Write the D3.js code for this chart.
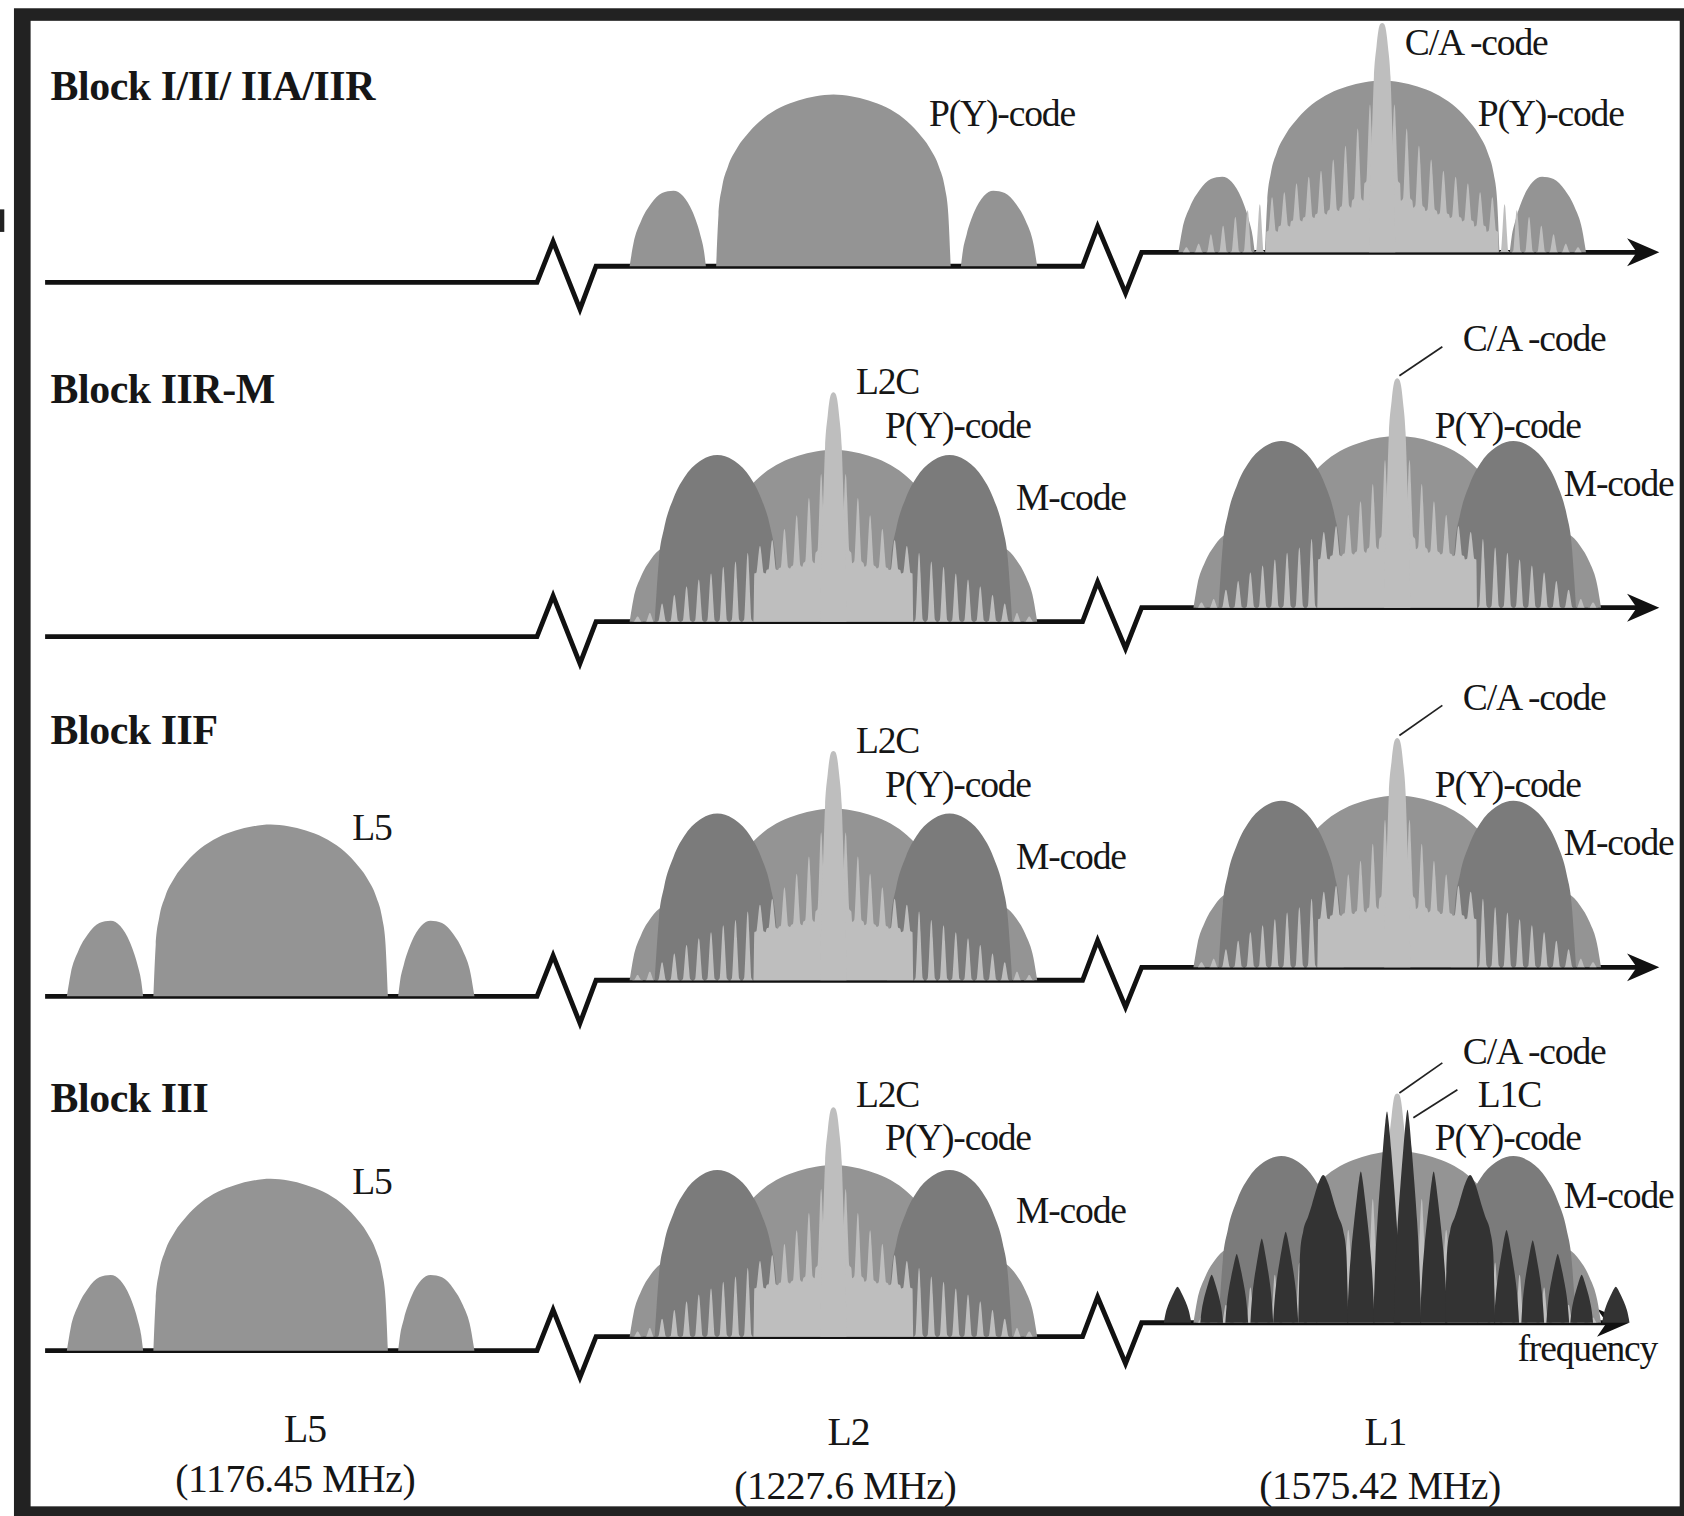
<!DOCTYPE html>
<html>
<head>
<meta charset="utf-8">
<script src="https://cdn.jsdelivr.net/npm/d3@7"></script>
<style>
  body { margin: 0; background: #fff; }
  svg text { font-family: "Liberation Serif", "Times New Roman", serif; fill: #161616; }
</style>
</head>
<body>
<svg id="chart"></svg>
<script>
// ---------- data ----------
const blocks = ["Block I/II/ IIA/IIR", "Block IIR-M", "Block IIF", "Block III"];
const bandNames = ["L5", "L2", "L1"];
const bandFreqs = ["(1176.45 MHz)", "(1227.6 MHz)", "(1575.42 MHz)"];

// which signals each block puts on each band
const blockSignals = [
  { L5: [], L2: ["PY"], L1: ["PY", "CA"] },
  { L5: [], L2: ["PY", "M", "CA"], L1: ["PY", "M", "CA"] },
  { L5: ["L5"], L2: ["PY", "M", "CA"], L1: ["PY", "M", "CA"] },
  { L5: ["L5"], L2: ["PY", "M", "CA"], L1: ["PY", "M", "CA", "L1C"] }
];

// BPSK(10) lobes (P(Y) and L5): [from MHz, to MHz, relative peak, shape]
const bpskLobes = [
  [-17.9, -11.2, 0.44, "sideL"],
  [-10.3, 10.3, 1.0, "main"],
  [11.2, 17.9, 0.44, "sideR"]
];
// M-code split spectrum lobes: [centre MHz, half width MHz, peak]
const mLobes = [[-10.2, 5.5, 0.97], [10.2, 5.5, 0.97]];

// C/A and L2C line comb, tooth peaks from the centre outwards (index 0 = centre spike)
const combSpacing = 1.075;
const combPeaks = [1.335, 0.86, 0.72, 0.62, 0.54, 0.475, 0.44, 0.40, 0.35, 0.32, 0.28, 0.245, 0.205, 0.155, 0.105, 0.05, 0.03];
// solid floor between the teeth
const combFloorBlockI = [0.42, 0.40, 0.30, 0.26, 0.24, 0.22, 0.20, 0.18, 0.15, 0.12, 0, 0, 0, 0, 0, 0, 0];
const combFloorModern = [0.42, 0.40, 0.34, 0.32, 0.31, 0.30, 0.28, 0, 0, 0, 0, 0, 0, 0, 0, 0, 0];
// centre spike half profile: [MHz, relative]
const spikeHalf = [[0, 1.335], [0.15, 1.33], [0.34, 1.29], [0.5, 1.2], [0.73, 1.02], [0.9, 0.7], [1.05, 0.42], [1.15, 0]];

// L1C spikes: [offset MHz, half width MHz, peak, shape]
const l1cSpikes = [
  [-19.3, 1.2, 0.21, "needle"], [-16.3, 1.0, 0.28, "needle"], [-14.1, 1.0, 0.40, "needle"],
  [-11.9, 1.0, 0.49, "needle"], [-9.8, 1.1, 0.53, "needle"], [-6.5, 2.2, 0.86, "tower"],
  [-3.2, 1.2, 0.88, "needle"], [-0.9, 1.2, 1.23, "needle"], [0.9, 1.2, 1.24, "needle"],
  [3.2, 1.2, 0.88, "needle"], [6.4, 2.2, 0.86, "tower"], [9.6, 1.1, 0.54, "needle"],
  [11.9, 1.0, 0.48, "needle"], [14.1, 1.0, 0.40, "needle"], [16.2, 1.0, 0.28, "needle"],
  [19.2, 1.2, 0.21, "needle"]
];

// normalised lobe outlines [u, h]
const mainHalf = [[0, 1], [0.15, 0.99], [0.3, 0.965], [0.45, 0.925], [0.6, 0.86], [0.72, 0.78], [0.82, 0.69], [0.9, 0.58], [0.95, 0.46], [0.98, 0.3], [1, 0]];
const sideShape = [[-1, 0], [-0.9, 0.3], [-0.7, 0.6], [-0.45, 0.82], [-0.15, 0.97], [0.15, 1], [0.4, 0.93], [0.65, 0.72], [0.85, 0.42], [0.95, 0.2], [1, 0]];
const mHalf = [[0, 1], [0.25, 0.97], [0.5, 0.88], [0.7, 0.74], [0.85, 0.56], [0.93, 0.38], [0.97, 0.18], [1, 0]];
const needleHalf = [[0, 1], [0.12, 0.95], [0.3, 0.82], [0.5, 0.66], [0.7, 0.48], [0.85, 0.3], [0.95, 0.12], [1, 0]];
const towerHalf = [[0, 1], [0.2, 0.94], [0.45, 0.8], [0.6, 0.72], [0.8, 0.62], [0.92, 0.48], [0.97, 0.22], [1, 0]];
const toothShape = [[-0.46, 0], [-0.3, 0.03], [-0.2, 0.35], [-0.12, 0.7], [-0.05, 0.95], [0, 1], [0.05, 0.95], [0.12, 0.7], [0.2, 0.35], [0.3, 0.03], [0.46, 0]];

// ---------- layout (figure units, 1568 x 1412) ----------
const rows = [
  { titleY: 93, lineY: [263, 248, 235], arrowX: 1545, l1x: 1287, floor: combFloorBlockI },
  { titleY: 375, lineY: [593, 579, 566], arrowX: 1545, l1x: 1301, floor: combFloorModern },
  { titleY: 693, lineY: [928, 913, 901], arrowX: 1545, l1x: 1301, floor: combFloorModern },
  { titleY: 1036, lineY: [1258, 1245, 1232], arrowX: 1517, l1x: 1301, floor: combFloorModern }
];
const bandX = { L5: 252, L2: 776 };
const PX_PER_MHZ = 10.6, UNIT_H = 160;

const labelPlacement = [
  [0, "P(Y)-code", 865, 117], [0, "C/A -code", 1308, 51], [0, "P(Y)-code", 1376, 117],
  [1, "L2C", 797, 367], [1, "P(Y)-code", 824, 408], [1, "M-code", 946, 475],
  [1, "C/A -code", 1362, 327], [1, "P(Y)-code", 1336, 408], [1, "M-code", 1456, 462],
  [2, "L5", 328, 782], [2, "L2C", 797, 701], [2, "P(Y)-code", 824, 742], [2, "M-code", 946, 809],
  [2, "C/A -code", 1362, 661], [2, "P(Y)-code", 1336, 742], [2, "M-code", 1456, 796],
  [3, "L5", 328, 1112], [3, "L2C", 797, 1031], [3, "P(Y)-code", 824, 1071], [3, "M-code", 946, 1139],
  [3, "C/A -code", 1362, 991], [3, "L1C", 1376, 1031], [3, "P(Y)-code", 1336, 1071], [3, "M-code", 1456, 1125],
  [3, "frequency", 1413, 1268]
];
const leaders = [[1, 1303, 350, 1343, 323], [2, 1303, 685, 1343, 657], [3, 1303, 1018, 1343, 990], [3, 1316, 1041, 1357, 1015]];
const bottomPlacement = [[284, 790, 1290], [275, 787, 1285]];

const colour = { PY: "#949494", M: "#7b7b7b", CA: "#bebebe", L1C: "#333333", line: "#111" };

// ---------- drawing ----------
const svg = d3.select("#chart")
  .attr("width", 1684).attr("height", 1516)
  .attr("viewBox", "0 0 1568 1412")
  .attr("preserveAspectRatio", "none");

// frame
svg.append("rect").attr("x", 13).attr("y", 7.7).attr("width", 1555).attr("height", 1404.3).attr("fill", "#222");
svg.append("rect").attr("x", 28.5).attr("y", 19.4).attr("width", 1535.5).attr("height", 1383.6).attr("fill", "#fff");
svg.append("rect").attr("x", 0).attr("y", 195).attr("width", 4).attr("height", 21).attr("fill", "#222");

const sym = half => [...half.slice(1).reverse().map(([u, h]) => [-u, h]), ...half];
const shapes = {
  main: sym(mainHalf),
  sideL: sideShape,
  sideR: sideShape.map(([u, h]) => [-u, h]).reverse(),
  m: sym(mHalf),
  needle: sym(needleHalf),
  tower: sym(towerHalf)
};
const lobe = (centre, half, peak, shape) => shapes[shape].map(([u, h]) => [centre + u * half, h * peak]);

function drawArea(g, sc, pts, fill) {
  const area = d3.area()
    .x(d => sc.x(d[0]))
    .y0(sc.y(0))
    .y1(d => sc.y(d[1]))
    .curve(d3.curveMonotoneX);
  g.append("path").datum(pts).attr("fill", fill).attr("d", area);
}

function combPoints(floor) {
  const pts = [];
  const n = combPeaks.length - 1;
  for (let i = -n; i <= n; i++) {
    const k = Math.abs(i), f = floor[k];
    if (i === 0) {
      pts.push([-0.46 * combSpacing, f], [0.46 * combSpacing, f]);
      continue;
    }
    toothShape.forEach(([u, t]) => pts.push([(i + u) * combSpacing, f + t * (combPeaks[k] - f)]));
  }
  return pts;
}

rows.forEach((row, r) => {
  const g = svg.append("g");
  const [yL, yM, yR] = row.lineY;

  // axis with the two breaks
  const linePts = [[42, yL], [500, yL], [515, yL - 38], [540, yL + 25], [555, yM], [1008, yM],
    [1022, yM - 37], [1048, yM + 25], [1063, yR], [row.arrowX - 20, yR]];
  g.append("path").datum(linePts)
    .attr("d", d3.line())
    .attr("fill", "none").attr("stroke", colour.line).attr("stroke-width", 4.5)
    .attr("stroke-linejoin", "miter");
  const ax = row.arrowX;
  g.append("path")
    .attr("d", `M${ax},${yR} L${ax - 30},${yR - 13} L${ax - 21},${yR} L${ax - 30},${yR + 13} Z`)
    .attr("fill", colour.line);

  // spectra per band
  const centres = { L5: bandX.L5, L2: bandX.L2, L1: row.l1x };
  const bases = { L5: yL, L2: yM, L1: yR };
  bandNames.forEach(b => {
    const sig = blockSignals[r][b];
    if (!sig.length) return;
    const cx = centres[b], base = bases[b];
    const sc = {
      x: d3.scaleLinear().domain([0, 1]).range([cx, cx + PX_PER_MHZ]),
      y: d3.scaleLinear().domain([0, 1]).range([base, base - UNIT_H])
    };
    if (sig.includes("PY") || sig.includes("L5")) {
      bpskLobes.forEach(([a, z, p, s]) => drawArea(g, sc, lobe((a + z) / 2, (z - a) / 2, p, s), colour.PY));
    }
    if (sig.includes("M")) {
      mLobes.forEach(([c, hw, p]) => drawArea(g, sc, lobe(c, hw, p, "m"), colour.M));
    }
    if (sig.includes("CA")) {
      drawArea(g, sc, combPoints(row.floor), colour.CA);
      drawArea(g, sc, sym(spikeHalf), colour.CA);
    }
    if (sig.includes("L1C")) {
      l1cSpikes.forEach(([c, hw, p, s]) => drawArea(g, sc, lobe(c, hw, p, s), colour.L1C));
    }
  });

  g.append("text")
    .attr("x", 47).attr("y", row.titleY)
    .attr("font-size", 39).attr("font-weight", "bold").attr("letter-spacing", -0.4)
    .text(blocks[r]);
});

// labels and leader lines
labelPlacement.forEach(([r, t, x, y]) => {
  svg.append("text").attr("x", x).attr("y", y)
    .attr("font-size", 35).attr("letter-spacing", -1.1)
    .text(t);
});
leaders.forEach(([r, x1, y1, x2, y2]) => {
  svg.append("line").attr("x1", x1).attr("y1", y1).attr("x2", x2).attr("y2", y2)
    .attr("stroke", "#222").attr("stroke-width", 1.6);
});

// band names at the bottom
bandNames.forEach((b, i) => {
  svg.append("text").attr("x", bottomPlacement[0][i]).attr("y", i === 0 ? 1343 : 1346)
    .attr("text-anchor", "middle").attr("font-size", 37).attr("letter-spacing", -1)
    .text(b);
  svg.append("text").attr("x", bottomPlacement[1][i]).attr("y", i === 0 ? 1390 : 1396)
    .attr("text-anchor", "middle").attr("font-size", 37).attr("letter-spacing", -0.4)
    .text(bandFreqs[i]);
});
</script>
</body>
</html>
